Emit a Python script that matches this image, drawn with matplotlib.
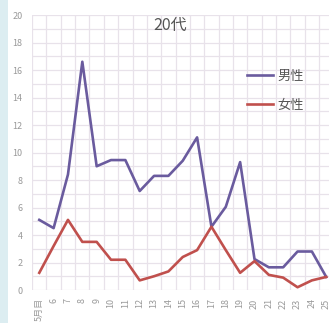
import matplotlib
matplotlib.use("Agg")
import matplotlib.pyplot as plt
from matplotlib.patches import Rectangle
from matplotlib.ticker import MultipleLocator

plt.rcParams["font.family"] = ["Noto Sans CJK JP", "DejaVu Sans"]

# data
months = ["5月目", "6", "7", "8", "9", "10", "11", "12", "13", "14", "15",
          "16", "17", "18", "19", "20", "21", "22", "23", "24", "25"]
male = [5.1, 4.5, 8.4, 16.6, 9.0, 9.45, 9.45, 7.2, 8.3, 8.3, 9.4,
        11.1, 4.6, 6.05, 9.3, 2.25, 1.65, 1.65, 2.8, 2.8, 0.95]
female = [1.25, 3.2, 5.1, 3.5, 3.5, 2.2, 2.2, 0.7, 1.0, 1.35, 2.4,
          2.9, 4.6, 2.9, 1.25, 2.1, 1.1, 0.9, 0.2, 0.7, 0.95]
series_labels = ["男性", "女性"]
title = "20代"

MALE_COLOR = "#6a5b9e"
FEMALE_COLOR = "#c0504d"
GRID_COLOR = "#e8e2ea"
TICK_COLOR = "#9a9a9a"

W, H = 329, 323
fig = plt.figure(figsize=(W / 100, H / 100), dpi=100)
fig.patch.set_facecolor("white")

# light blue strip on the left edge
fig.patches.append(Rectangle((0, 0), 8 / W, 1, transform=fig.transFigure,
                             facecolor="#dcedf1", edgecolor="none", zorder=0))

left, right = 32.1, 333.4
bottom, top = 290, 15
ax = fig.add_axes([left / W, 1 - bottom / H, (right - left) / W, (bottom - top) / H])
ax.set_facecolor("white")

x = list(range(len(months)))
ax.plot(x, male, color=MALE_COLOR, lw=1.9, label=series_labels[0], zorder=3)
ax.plot(x, female, color=FEMALE_COLOR, lw=1.9, label=series_labels[1], zorder=3)

ax.set_xlim(-0.5, len(months) - 0.5)
ax.set_ylim(0, 20)
ax.set_xticks(x)
ax.set_xticklabels(months, rotation=90, fontsize=6.5, color=TICK_COLOR)
ax.yaxis.set_major_locator(MultipleLocator(2))
ax.yaxis.set_minor_locator(MultipleLocator(1))
ax.set_xticks([i - 0.5 for i in range(len(months) + 1)], minor=True)
ax.tick_params(axis="y", labelsize=6.5, labelcolor=TICK_COLOR, length=0, pad=7)
ax.tick_params(axis="x", length=0, pad=6)
ax.tick_params(which="minor", length=0)
ax.grid(which="minor", color=GRID_COLOR, lw=0.9)
ax.grid(which="major", axis="y", color=GRID_COLOR, lw=0.9)
for s in ax.spines.values():
    s.set_visible(False)

fig.text(170 / W, 1 - 25 / H, title, ha="center", va="center",
         fontsize=11.5, color="#555555")

ax.legend(loc="upper left", bbox_to_anchor=(247 / W, 1 - 70 / H),
          bbox_transform=fig.transFigure, frameon=False, fontsize=9.5,
          handlelength=2.0, handletextpad=0.3, labelspacing=1.2,
          borderpad=0, borderaxespad=0, labelcolor="#555555")

fig.savefig("out.png", dpi=100)
